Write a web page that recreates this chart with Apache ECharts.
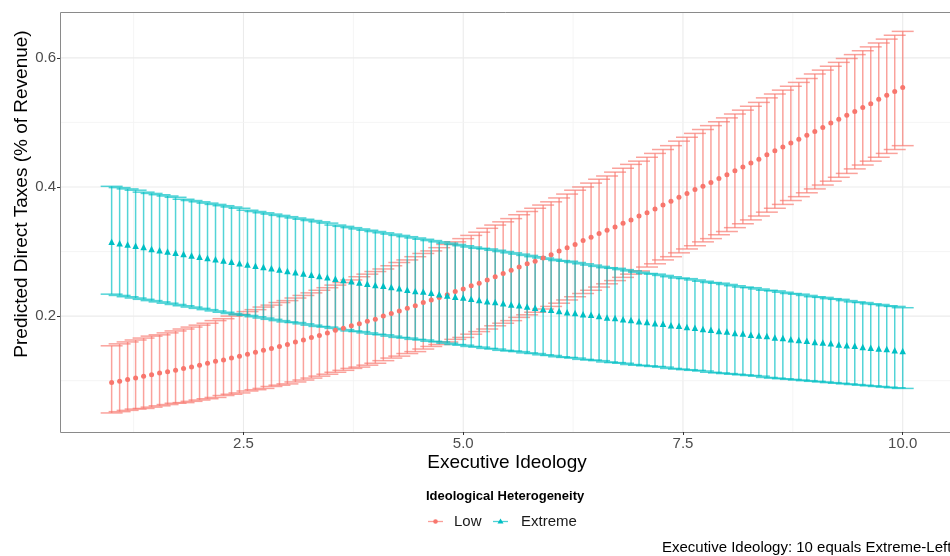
<!DOCTYPE html>
<html><head><meta charset="utf-8">
<script src="https://cdn.jsdelivr.net/npm/echarts@6/dist/echarts.min.js"></script>
<style>html,body{margin:0;padding:0;background:#fff}#c{width:950px;height:556px}</style>
</head><body><div id="c"></div>
<script>
// x grid: 100 evenly spaced values of executive ideology from 1 to 10
const xStart = 1, xEnd = 10, nPoints = 100;

const lowMean = [0.097,0.099,0.102,0.104,0.107,0.109,0.112,0.114,0.116,0.119,0.121,
0.124,0.127,0.130,0.132,0.135,0.138,0.141,0.144,0.147,0.150,0.153,
0.156,0.160,0.163,0.167,0.170,0.174,0.178,0.181,0.185,0.188,0.192,
0.195,0.200,0.204,0.208,0.212,0.216,0.221,0.225,0.229,0.233,0.238,
0.242,0.247,0.251,0.256,0.261,0.266,0.271,0.276,0.281,0.285,0.290,
0.295,0.301,0.306,0.311,0.317,0.322,0.328,0.333,0.338,0.344,0.349,
0.355,0.360,0.366,0.372,0.378,0.384,0.390,0.396,0.401,0.407,0.413,
0.419,0.425,0.431,0.437,0.443,0.450,0.456,0.462,0.468,0.474,0.480,
0.486,0.492,0.499,0.505,0.511,0.517,0.523,0.529,0.536,0.542,0.548,0.554];

const lowUpper = [0.154,0.157,0.160,0.163,0.166,0.169,0.171,0.174,0.177,0.180,0.183,
0.186,0.189,0.193,0.196,0.200,0.203,0.207,0.210,0.214,0.217,0.221,
0.224,0.228,0.232,0.236,0.240,0.244,0.248,0.252,0.256,0.261,0.265,
0.269,0.273,0.278,0.283,0.287,0.292,0.297,0.301,0.306,0.311,0.315,
0.320,0.325,0.330,0.336,0.341,0.346,0.351,0.357,0.362,0.367,0.372,
0.377,0.383,0.389,0.395,0.400,0.406,0.412,0.417,0.423,0.429,0.435,
0.440,0.446,0.452,0.458,0.464,0.471,0.477,0.483,0.489,0.495,0.501,
0.507,0.513,0.519,0.525,0.531,0.538,0.544,0.550,0.556,0.562,0.568,
0.575,0.581,0.587,0.593,0.599,0.605,0.611,0.617,0.623,0.629,0.635,0.641];

const lowLower = [0.050,0.052,0.054,0.056,0.057,0.059,0.061,0.063,0.065,0.066,0.068,
0.070,0.072,0.074,0.077,0.079,0.081,0.084,0.086,0.088,0.091,0.093,
0.095,0.098,0.101,0.104,0.107,0.110,0.113,0.116,0.119,0.121,0.124,
0.127,0.131,0.135,0.138,0.142,0.145,0.149,0.153,0.156,0.160,0.164,
0.167,0.172,0.176,0.180,0.185,0.189,0.193,0.198,0.202,0.206,0.211,
0.215,0.220,0.225,0.230,0.235,0.240,0.245,0.250,0.255,0.260,0.265,
0.270,0.276,0.281,0.287,0.292,0.298,0.304,0.309,0.315,0.320,0.326,
0.331,0.337,0.343,0.349,0.355,0.361,0.367,0.373,0.379,0.385,0.391,
0.397,0.403,0.409,0.415,0.421,0.428,0.434,0.440,0.446,0.452,0.458,0.464];

const extMean = [0.315,0.313,0.311,0.309,0.307,0.304,0.302,0.300,0.298,0.296,0.294,
0.292,0.290,0.288,0.286,0.284,0.282,0.280,0.278,0.276,0.274,0.272,
0.270,0.268,0.266,0.264,0.262,0.260,0.258,0.256,0.254,0.252,0.250,
0.248,0.247,0.245,0.243,0.241,0.239,0.238,0.236,0.234,0.232,0.230,
0.229,0.227,0.225,0.223,0.222,0.220,0.218,0.217,0.215,0.213,0.211,
0.210,0.208,0.206,0.205,0.203,0.202,0.200,0.198,0.197,0.195,0.194,
0.192,0.191,0.189,0.188,0.186,0.185,0.183,0.182,0.180,0.179,0.177,
0.176,0.174,0.173,0.171,0.170,0.169,0.167,0.166,0.164,0.163,0.162,
0.160,0.159,0.158,0.156,0.155,0.154,0.152,0.151,0.150,0.149,0.147,0.146];

const extUpper = [0.401,0.399,0.397,0.395,0.392,0.390,0.388,0.386,0.384,0.381,0.379,
0.377,0.375,0.373,0.371,0.369,0.367,0.364,0.362,0.360,0.358,0.356,
0.354,0.352,0.350,0.348,0.346,0.344,0.341,0.339,0.337,0.335,0.333,
0.331,0.329,0.327,0.325,0.323,0.321,0.319,0.317,0.315,0.313,0.311,
0.309,0.307,0.305,0.304,0.302,0.300,0.298,0.296,0.294,0.292,0.290,
0.288,0.286,0.285,0.283,0.281,0.279,0.277,0.275,0.274,0.272,0.270,
0.268,0.266,0.265,0.263,0.261,0.259,0.258,0.256,0.254,0.252,0.251,
0.249,0.247,0.245,0.244,0.242,0.240,0.239,0.237,0.235,0.234,0.232,
0.230,0.229,0.227,0.226,0.224,0.222,0.221,0.219,0.218,0.216,0.215,0.213];

const extLower = [0.234,0.232,0.230,0.228,0.226,0.224,0.222,0.220,0.218,0.216,0.214,
0.212,0.210,0.208,0.206,0.204,0.202,0.201,0.199,0.197,0.195,0.193,
0.191,0.190,0.188,0.186,0.184,0.183,0.181,0.179,0.177,0.176,0.174,
0.172,0.171,0.169,0.167,0.166,0.164,0.163,0.161,0.160,0.158,0.156,
0.155,0.153,0.152,0.150,0.149,0.147,0.146,0.145,0.143,0.142,0.140,
0.139,0.137,0.136,0.135,0.133,0.132,0.131,0.129,0.128,0.127,0.125,
0.124,0.123,0.122,0.121,0.119,0.118,0.117,0.116,0.115,0.113,0.112,
0.111,0.110,0.109,0.108,0.107,0.105,0.104,0.103,0.102,0.101,0.100,
0.099,0.098,0.097,0.096,0.095,0.094,0.093,0.092,0.091,0.090,0.089,0.088];

const xTicks = [2.5, 5.0, 7.5, 10.0];
const xTickLabels = ['2.5', '5.0', '7.5', '10.0'];
const yTicks = [0.2, 0.4, 0.6];
const yTickLabels = ['0.2', '0.4', '0.6'];
const xMinor = [1.25, 3.75, 6.25, 8.75];
const yMinor = [0.1, 0.3, 0.5];
const groupNames = ['Low', 'Extreme'];

const xs = [];
for (let i = 0; i < nPoints; i++) xs.push(xStart + i * (xEnd - xStart) / (nPoints - 1));

const RED = '#F8766D', TEAL = '#00BFC4';
const FONT = '"Liberation Sans", Arial, Helvetica, sans-serif';
const capHalf = 0.125;

const chart = echarts.init(document.getElementById('c'), null, {renderer: 'canvas'});

// kind: 0 = vertical grid line, 1 = horizontal grid line, 2 = panel border (left/top/bottom)
function gridRender(params, api) {
  const cs = params.coordSys;
  const kind = api.value(1);
  if (kind === 2) {
    const st = {stroke: '#8a8a8a', lineWidth: 1, fill: 'none'};
    return {type: 'polyline', shape: {points: [[cs.x + cs.width + 10, cs.y + 0.5], [cs.x + 0.5, cs.y + 0.5], [cs.x + 0.5, cs.y + cs.height + 0.5], [cs.x + cs.width + 10, cs.y + cs.height + 0.5]]}, style: st};
  }
  const v = api.value(0), major = api.value(2);
  const style = {stroke: major ? '#ebebeb' : '#f3f3f3', lineWidth: major ? 1.1 : 0.8};
  if (kind === 0) {
    const px = api.coord([v, 0.3])[0];
    return {type: 'line', shape: {x1: px, y1: cs.y, x2: px, y2: cs.y + cs.height}, style};
  } else {
    const py = api.coord([1, v])[1];
    return {type: 'line', shape: {x1: cs.x, y1: py, x2: cs.x + cs.width, y2: py}, style};
  }
}
const gridData = [];
xTicks.forEach(v => gridData.push([v, 0, 1]));
xMinor.forEach(v => gridData.push([v, 0, 0]));
yTicks.forEach(v => gridData.push([v, 1, 1]));
yMinor.forEach(v => gridData.push([v, 1, 0]));
gridData.push([1, 2, 1]);

function barRender(color) {
  return function (params, api) {
    const x = api.value(0), lo = api.value(1), hi = api.value(2);
    const pLo = api.coord([x, lo]), pHi = api.coord([x, hi]);
    const cL = api.coord([x - capHalf, lo])[0], cR = api.coord([x + capHalf, lo])[0];
    const st = {stroke: color, lineWidth: 1.5, opacity: 0.68};
    return {type: 'group', children: [
      {type: 'line', shape: {x1: pLo[0], y1: pLo[1], x2: pHi[0], y2: pHi[1]}, style: st},
      {type: 'line', shape: {x1: cL, y1: pLo[1], x2: cR, y2: pLo[1]}, style: st},
      {type: 'line', shape: {x1: cL, y1: pHi[1], x2: cR, y2: pHi[1]}, style: st}
    ]};
  };
}

const option = {
  animation: false,
  backgroundColor: '#ffffff',
  grid: {left: 60, top: 12, right: 0, height: 420, show: false},
  xAxis: {
    type: 'value', min: 0.4125, max: 10.538,
    axisLine: {show: false},
    splitLine: {show: false},
    axisTick: {show: true, length: 3, lineStyle: {color: '#333', width: 1}, customValues: xTicks},
    axisLabel: {customValues: xTicks, formatter: v => xTickLabels[xTicks.indexOf(v)] || '', color: '#4d4d4d', fontSize: 15, fontFamily: FONT, margin: 4}
  },
  yAxis: {
    type: 'value', min: 0.0205, max: 0.671,
    axisLine: {show: false},
    splitLine: {show: false},
    axisTick: {show: true, length: 3, lineStyle: {color: '#333', width: 1}, customValues: yTicks},
    axisLabel: {customValues: yTicks, formatter: v => yTickLabels[yTicks.indexOf(v)] || '', color: '#4d4d4d', fontSize: 15, fontFamily: FONT, margin: 4}
  },
  series: [
    {type: 'custom', name: 'grid', z: 0, silent: true, renderItem: gridRender, data: gridData, encode: {x: 0}},
    {type: 'custom', name: groupNames[0] + ' CI', z: 2, renderItem: barRender(RED), data: xs.map((x, i) => [x, lowLower[i], lowUpper[i]]), encode: {x: 0, y: [1, 2]}},
    {type: 'custom', name: groupNames[1] + ' CI', z: 2, renderItem: barRender(TEAL), data: xs.map((x, i) => [x, extLower[i], extUpper[i]]), encode: {x: 0, y: [1, 2]}},
    {type: 'scatter', name: groupNames[0], z: 3, symbol: 'circle', symbolSize: 5, itemStyle: {color: RED, opacity: 1}, data: xs.map((x, i) => [x, lowMean[i]])},
    {type: 'scatter', name: groupNames[1], z: 3, symbol: 'triangle', symbolSize: 6.5, itemStyle: {color: TEAL, opacity: 1}, data: xs.map((x, i) => [x, extMean[i]])}
  ],
  graphic: [
    {type: 'text', x: 22, y: 194, rotation: Math.PI / 2, style: {text: 'Predicted Direct Taxes (% of Revenue)', fill: '#000', font: '19px ' + FONT, textAlign: 'center', textVerticalAlign: 'middle'}},
    {type: 'text', x: 507, y: 463, style: {text: 'Executive Ideology', fill: '#000', font: '19px ' + FONT, textAlign: 'center', textVerticalAlign: 'middle'}},
    {type: 'text', x: 426, y: 496, style: {text: 'Ideological Heterogeneity', fill: '#000', font: 'bold 13px ' + FONT, textAlign: 'left', textVerticalAlign: 'middle'}},
    {type: 'line', shape: {x1: 428, y1: 521.5, x2: 443, y2: 521.5}, style: {stroke: RED, lineWidth: 1.3, opacity: 0.7}},
    {type: 'circle', shape: {cx: 435.5, cy: 521.5, r: 2.3}, style: {fill: RED}},
    {type: 'text', x: 454, y: 522, style: {text: groupNames[0], fill: '#1a1a1a', font: '15px ' + FONT, textAlign: 'left', textVerticalAlign: 'middle'}},
    {type: 'line', shape: {x1: 493, y1: 521.5, x2: 508, y2: 521.5}, style: {stroke: TEAL, lineWidth: 1.3, opacity: 0.7}},
    {type: 'polygon', shape: {points: [[500.5, 518.5], [503.5, 523.5], [497.5, 523.5]]}, style: {fill: TEAL}},
    {type: 'text', x: 521, y: 522, style: {text: groupNames[1], fill: '#1a1a1a', font: '15px ' + FONT, textAlign: 'left', textVerticalAlign: 'middle'}},
    {type: 'text', x: 662, y: 548, style: {text: 'Executive Ideology: 10 equals Extreme-Left', fill: '#000', font: '15px ' + FONT, textAlign: 'left', textVerticalAlign: 'middle'}}
  ]
};
chart.setOption(option);
</script>
</body></html>
